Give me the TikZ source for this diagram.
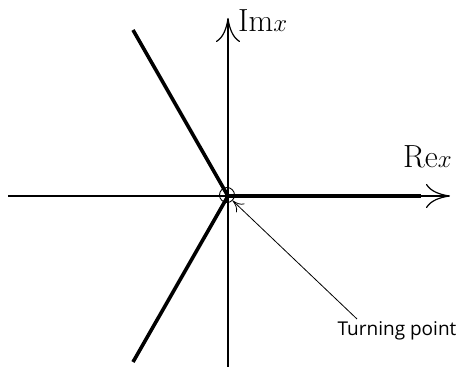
\documentclass[tikz,border=0pt]{standalone}
\usepackage{fontspec}
\newfontfamily\labelfont{Open Sans}
\usetikzlibrary{arrows.meta}
\begin{document}
\begin{tikzpicture}[x=1pt,y=1pt,
  axis/.style={line width=1.2pt},
  branch/.style={line width=3.6pt},
  bigtip/.style={-{To[length=24pt,width=24pt,line width=1.2pt]}},
  smalltip/.style={-{To[length=11pt,width=12pt]}},
  axlabel/.style={font=\fontsize{32}{36}\selectfont, inner sep=0pt}]
\useasboundingbox (0,0) rectangle (461,369);
\coordinate (O) at (228,173);
\coordinate (W) at (8,173);
\coordinate (E) at (450,173);
\coordinate (S) at (228,2);
\coordinate (N) at (228,351);
\coordinate (BR) at (421,173);
\coordinate (BU) at (133,339);
\coordinate (BD) at (133,7);
\draw[branch] (O) -- (BR);
\draw[branch] (O) -- (BU);
\draw[branch] (O) -- (BD);
\draw[axis,bigtip] (W) -- (E);
\draw[axis,bigtip] (S) -- (N);
\node[circle,draw,line width=0.9pt,minimum size=15pt,inner sep=0pt] (tp) at (227,174) {};
\node[axlabel,anchor=base west] (im) at (238,337) {$\mathrm{Im}x$};
\node[axlabel,anchor=base east] (re) at (452,201) {$\mathrm{Re}x$};
\node[font=\labelfont\fontsize{19}{22}\selectfont,anchor=base,inner sep=0pt] (lbl) at (397,33) {Turning point};
\coordinate (ls) at (357,50);
\draw[line width=0.8pt,smalltip] (ls) -- (tp.south east);
\end{tikzpicture}
\end{document}
